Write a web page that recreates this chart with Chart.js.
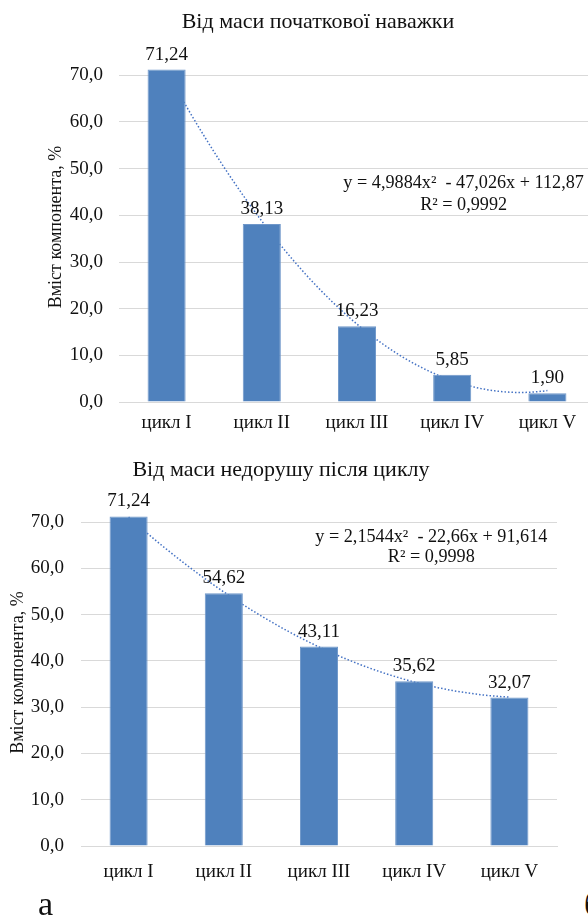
<!DOCTYPE html>
<html lang="uk">
<head>
<meta charset="utf-8">
<title>Вміст компонента за циклами</title>
<script src="https://cdn.jsdelivr.net/npm/chart.js@4.4.1/dist/chart.umd.min.js"></script>
<style>
  html, body { margin: 0; padding: 0; background: #fff; }
  body { position: relative; width: 588px; height: 917px; overflow: hidden; }
  .box { position: absolute; left: 0; }
  #box1 { top: 0; width: 636px; height: 442px; }
  #box2 { top: 440px; width: 562px; height: 477px; }
  .letter { position: absolute; font-family: 'Liberation Serif', 'Times New Roman', serif; font-size: 34px; line-height: 34px; color: #111; }
</style>
</head>
<body>
<div class="box" id="box1"><canvas id="chartInitial"></canvas></div>
<div class="box" id="box2"><canvas id="chartResidue"></canvas></div>
<div class="letter" style="left:38px; top:887px;">а</div>
<div class="letter" style="left:584px; top:887px;">б</div>

<script>
// Data
const categories = ['цикл I', 'цикл II', 'цикл III', 'цикл IV', 'цикл V'];
const initialMassValues = [71.24, 38.13, 16.23, 5.85, 1.90];
const residueMassValues = [71.24, 54.62, 43.11, 35.62, 32.07];
const yTicks = [0, 10, 20, 30, 40, 50, 60, 70];

// Polynomial trendline coefficients as printed on the chart (a, b, c)
const initialTrendCoefs = [4.9884, -47.026, 112.87];
const residueTrendCoefs = [2.1544, -22.66, 91.614];
const initialTrendText = ['y = 4,9884x²  - 47,026x + 112,87', 'R² = 0,9992'];
const residueTrendText = ['y = 2,1544x²  - 22,66x + 91,614', 'R² = 0,9998'];

const FONT = "'Liberation Serif', 'Times New Roman', serif";
const TEXT = '#111';
const GRID = '#d9d9d9';
const BAR = '#4f81bd';
const TREND = '#4472c4';

const fmt = (v, d) => v.toFixed(d).replace('.', ',');

// curve of the printed trend equation between the first and last cycle
function trendPoints(coefs) {
    const pts = [];
    for (let i = 0; i <= 80; i++) {
        const x = 1 + i * 0.05;
        pts.push({ x: x, y: coefs[0] * x * x + coefs[1] * x + coefs[2] });
    }
    return pts;
}

// value labels above the bars
const barValueLabels = {
    id: 'barValueLabels',
    afterDatasetsDraw(chart) {
        const ctx = chart.ctx;
        const meta = chart.getDatasetMeta(0);
        const values = chart.data.datasets[0].data;
        ctx.save();
        ctx.font = '19px ' + FONT;
        ctx.fillStyle = TEXT;
        ctx.textAlign = 'center';
        ctx.textBaseline = 'middle';
        meta.data.forEach((bar, i) => {
            ctx.fillText(fmt(values[i], 2), bar.x, bar.y - 15);
        });
        ctx.restore();
    }
};

// trend equation and R² text
const trendEquation = {
    id: 'trendEquation',
    afterDatasetsDraw(chart, args, opts) {
        const ctx = chart.ctx;
        const xs = chart.scales.xt, ys = chart.scales.y;
        ctx.save();
        ctx.font = '18.2px ' + FONT;
        ctx.fillStyle = TEXT;
        ctx.textAlign = 'center';
        ctx.textBaseline = 'middle';
        opts.lines.forEach((line, i) => {
            ctx.fillText(line, xs.getPixelForValue(opts.x), ys.getPixelForValue(opts.y[i]));
        });
        ctx.restore();
    }
};

function buildChart(canvasId, cfg) {
    return new Chart(document.getElementById(canvasId), {
        data: {
            labels: categories,
            datasets: [
                {
                    type: 'bar',
                    data: cfg.values,
                    backgroundColor: BAR,
                    borderColor: '#6f97c9',
                    borderWidth: 1,
                    grouped: false,
                    categoryPercentage: 1,
                    barPercentage: 0.4,
                    xAxisID: 'x',
                    yAxisID: 'y',
                    order: 1
                },
                {
                    type: 'line',
                    data: trendPoints(cfg.coefs),
                    xAxisID: 'xt',
                    yAxisID: 'y',
                    borderColor: TREND,
                    borderWidth: 1.5,
                    borderDash: [1.5, 2],
                    pointRadius: 0,
                    fill: false,
                    tension: 0,
                    order: 2
                }
            ]
        },
        options: {
            responsive: true,
            maintainAspectRatio: false,
            animation: false,
            layout: { padding: { left: cfg.padLeft, right: cfg.padRight, top: 0, bottom: 0 } },
            plugins: {
                legend: { display: false },
                tooltip: { enabled: false },
                title: {
                    display: true,
                    text: cfg.title,
                    color: TEXT,
                    font: { family: FONT, size: 22, weight: 'normal' },
                    padding: cfg.titlePadding
                },
                trendEquation: { lines: cfg.eqText, x: cfg.eqX, y: cfg.eqY }
            },
            scales: {
                x: {
                    type: 'category',
                    offset: true,
                    grid: { display: false, drawTicks: false },
                    border: { display: true, color: GRID },
                    ticks: { color: TEXT, font: { family: FONT, size: 19 }, padding: cfg.xTickPad, maxRotation: 0 },
                    afterFit: s => { s.height = cfg.xHeight; }
                },
                xt: { type: 'linear', display: false, min: 0.5, max: 5.5 },
                y: {
                    min: 0,
                    max: 75,
                    afterBuildTicks: s => { s.ticks = yTicks.map(v => ({ value: v })); },
                    grid: { color: GRID, drawTicks: false },
                    border: { display: false },
                    ticks: {
                        color: TEXT,
                        font: { family: FONT, size: 19 },
                        padding: cfg.yTickPad,
                        callback: v => fmt(v, 1)
                    },
                    title: {
                        display: true,
                        text: 'Вміст компонента, %',
                        color: TEXT,
                        font: { family: FONT, size: 18 },
                        padding: { top: cfg.yTitlePad, bottom: 0 }
                    },
                    afterFit: s => { s.width = cfg.yWidth; }
                }
            }
        },
        plugins: [barValueLabels, trendEquation]
    });
}

// Від маси початкової наважки
buildChart('chartInitial', {
    values: initialMassValues,
    coefs: initialTrendCoefs,
    title: 'Від маси початкової наважки',
    titlePadding: { top: 8.8, bottom: 16.8 },
    padLeft: 41,
    padRight: 41,
    yWidth: 78,
    yTickPad: 16,
    yTitlePad: 4,
    xHeight: 40,
    xTickPad: 10,
    eqText: initialTrendText,
    eqX: 4.12,
    eqY: [46.9, 42.2]
});

// Від маси недорушу після циклу
buildChart('chartResidue', {
    values: residueMassValues,
    coefs: residueTrendCoefs,
    title: 'Від маси недорушу після циклу',
    titlePadding: { top: 16.6, bottom: 16 },
    padLeft: 5,
    padRight: 5,
    yWidth: 76,
    yTickPad: 17,
    yTitlePad: 2,
    xHeight: 71,
    xTickPad: 15,
    eqText: residueTrendText,
    eqX: 4.18,
    eqY: [66.8, 62.5]
});
</script>
</body>
</html>
